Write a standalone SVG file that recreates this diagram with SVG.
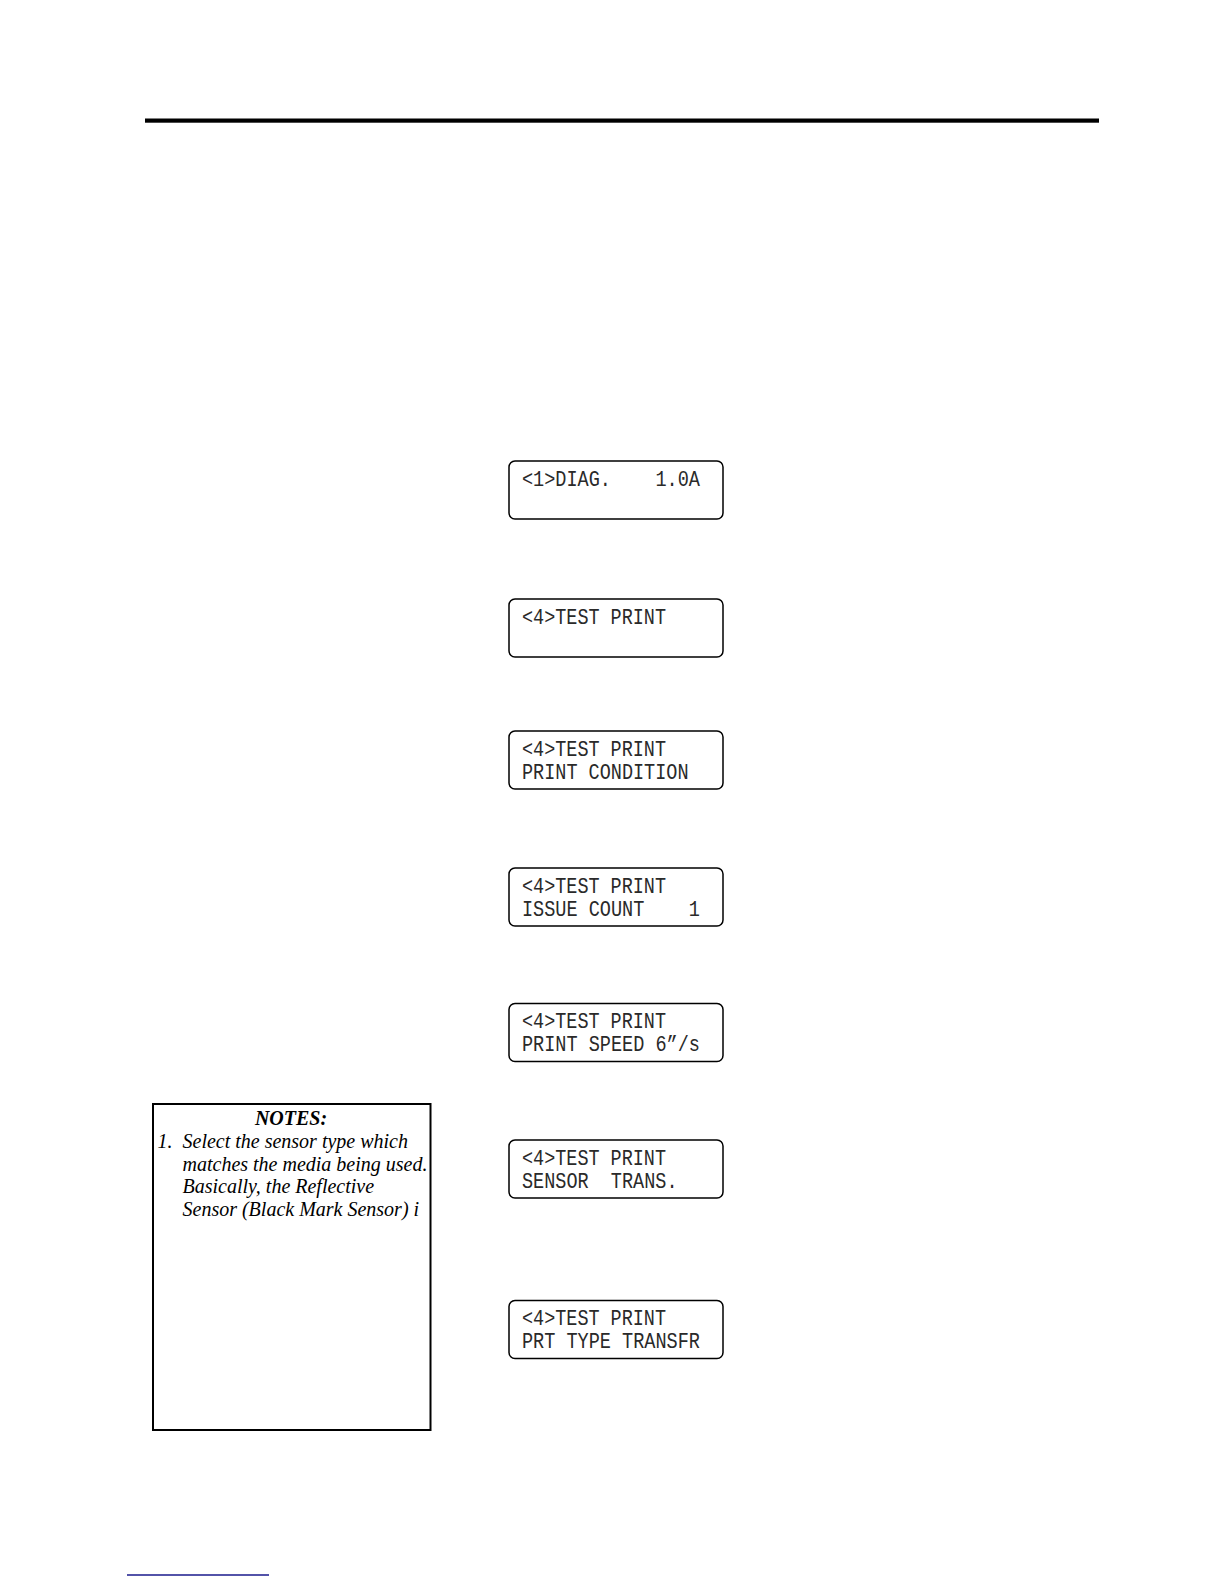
<svg xmlns="http://www.w3.org/2000/svg" width="1224" height="1584" viewBox="0 0 1224 1584">
<style>
.lcd{fill:#fff;stroke:#000;stroke-width:1.5}
.lt{font-family:"Liberation Mono","DejaVu Sans Mono",monospace;font-size:22.5px;fill:#2a2a2a}
.nt{font-family:"Liberation Serif","Times New Roman",serif;font-size:20px;font-style:italic;fill:#000}
</style>
<rect width="1224" height="1584" fill="#fff"/>
<rect x="145" y="118.5" width="954" height="4.2" fill="#000"/>
<g id="lcd1"><rect class="lcd" x="509" y="461" width="214" height="58" rx="6"/>
<text class="lt" x="522" y="485.5" textLength="178" lengthAdjust="spacingAndGlyphs" xml:space="preserve">&lt;1&gt;DIAG.    1.0A</text></g>
<g id="lcd2"><rect class="lcd" x="509" y="599" width="214" height="58" rx="6"/>
<text class="lt" x="522" y="623.5" textLength="144" lengthAdjust="spacingAndGlyphs" xml:space="preserve">&lt;4&gt;TEST PRINT</text></g>
<g id="lcd3"><rect class="lcd" x="509" y="731" width="214" height="58" rx="6"/>
<text class="lt" x="522" y="755.5" textLength="144" lengthAdjust="spacingAndGlyphs" xml:space="preserve">&lt;4&gt;TEST PRINT</text>
<text class="lt" x="522" y="778.5" textLength="166.5" lengthAdjust="spacingAndGlyphs" xml:space="preserve">PRINT CONDITION</text></g>
<g id="lcd4"><rect class="lcd" x="509" y="868" width="214" height="58" rx="6"/>
<text class="lt" x="522" y="892.5" textLength="144" lengthAdjust="spacingAndGlyphs" xml:space="preserve">&lt;4&gt;TEST PRINT</text>
<text class="lt" x="522" y="915.5" textLength="178" lengthAdjust="spacingAndGlyphs" xml:space="preserve">ISSUE COUNT    1</text></g>
<g id="lcd5"><rect class="lcd" x="509" y="1003.5" width="214" height="58" rx="6"/>
<text class="lt" x="522" y="1028" textLength="144" lengthAdjust="spacingAndGlyphs" xml:space="preserve">&lt;4&gt;TEST PRINT</text>
<text class="lt" x="522" y="1051" textLength="178" lengthAdjust="spacingAndGlyphs" xml:space="preserve">PRINT SPEED 6”/s</text></g>
<g id="lcd6"><rect class="lcd" x="509" y="1140" width="214" height="58" rx="6"/>
<text class="lt" x="522" y="1164.5" textLength="144" lengthAdjust="spacingAndGlyphs" xml:space="preserve">&lt;4&gt;TEST PRINT</text>
<text class="lt" x="522" y="1187.5" textLength="155.5" lengthAdjust="spacingAndGlyphs" xml:space="preserve">SENSOR  TRANS.</text></g>
<g id="lcd7"><rect class="lcd" x="509" y="1300.5" width="214" height="58" rx="6"/>
<text class="lt" x="522" y="1325" textLength="144" lengthAdjust="spacingAndGlyphs" xml:space="preserve">&lt;4&gt;TEST PRINT</text>
<text class="lt" x="522" y="1348" textLength="178" lengthAdjust="spacingAndGlyphs" xml:space="preserve">PRT TYPE TRANSFR</text></g>
<g id="notes">
<rect x="153" y="1104" width="277.5" height="326" fill="#fff" stroke="#000" stroke-width="2"/>
<text class="nt" x="291" y="1125" text-anchor="middle" font-weight="bold">NOTES:</text>
<text class="nt" x="157.5" y="1148">1.</text>
<text class="nt" x="182.5" y="1148">Select the sensor type which</text>
<text class="nt" x="182.5" y="1170.5">matches the media being used.</text>
<text class="nt" x="182.5" y="1193">Basically, the Reflective</text>
<text class="nt" x="182.5" y="1215.5">Sensor (Black Mark Sensor) i</text>
</g>
<line x1="127" y1="1575" x2="269" y2="1575" stroke="#1a1a8c" stroke-width="1.5"/>
</svg>
